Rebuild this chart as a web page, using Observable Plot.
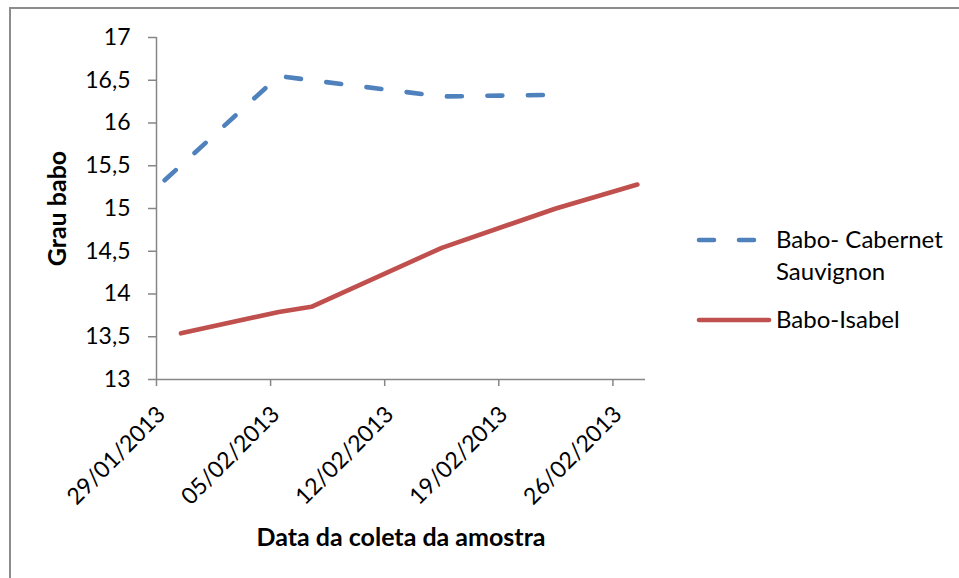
<!DOCTYPE html>
<html><head><meta charset="utf-8">
<script src="https://cdn.jsdelivr.net/npm/d3@7"></script>
<script src="https://cdn.jsdelivr.net/npm/@observablehq/plot@0.6"></script>
<style>
body{margin:0;background:#fff;font-family:Lato,"Open Sans",sans-serif}
#wrap{position:relative;width:959px;height:578px;overflow:hidden;background:#fff}
#frame{position:absolute;left:9px;top:7px;width:1000px;height:1000px;border-top:2px solid #8c8c8c;border-left:2px solid #8c8c8c;box-sizing:border-box}
#chart{position:absolute;left:0;top:0}
.leg{position:absolute;font-size:24px;color:#000;line-height:32px;white-space:nowrap}
</style></head>
<body>
<div id="wrap">
  <div id="frame"></div>
  <div id="chart"></div>
  <div id="legend"></div>
</div>
<script>
// ---- data ----
const seriesNames = ["Babo- Cabernet Sauvignon", "Babo-Isabel"];
const cabDates = ["2013-01-29", "2013-02-05", "2013-02-07", "2013-02-15", "2013-02-22"];
const cabValues = [15.33, 16.55, 16.50, 16.31, 16.33];
const isaDates = ["2013-01-30", "2013-02-05", "2013-02-07", "2013-02-15", "2013-02-22", "2013-02-27"];
const isaValues = [13.54, 13.79, 13.85, 14.54, 15.00, 15.28];
const xTickDates = ["2013-01-29", "2013-02-05", "2013-02-12", "2013-02-19", "2013-02-26"];
const xDomainDates = ["2013-01-29", "2013-02-28"];
const yTicks = [13, 13.5, 14, 14.5, 15, 15.5, 16, 16.5, 17];
const colors = ["#4F81BD", "#C0504D"];

const day = s => new Date(s + "T00:00:00Z");
const mid = s => new Date(s + "T12:00:00Z");
const cab = cabDates.map((d, i) => ({x: mid(d), y: cabValues[i]}));
const isa = isaDates.map((d, i) => ({x: mid(d), y: isaValues[i]}));
const fmtDate = d3.utcFormat("%d/%m/%Y");
const fmtNum = d => String(d).replace(".", ",");
const axisGray = "#868686";
const xt = xTickDates.map(day);

const plot = Plot.plot({
  width: 959, height: 578,
  marginLeft: 156, marginRight: 314, marginTop: 37, marginBottom: 199,
  style: {fontFamily: "Lato, 'Open Sans', sans-serif", color: "#000", background: "transparent", overflow: "visible"},
  x: {type: "utc", domain: xDomainDates.map(day)},
  y: {domain: [13, 17]},
  marks: [
    Plot.axisY({ticks: yTicks, tickFormat: fmtNum, tickSize: 8, tickPadding: 18, fontSize: 23, stroke: axisGray, strokeWidth: 1.5, label: null}),
    Plot.axisX({ticks: xt, tickFormat: () => "", tickSize: 7, stroke: axisGray, strokeWidth: 1.5, label: null}),
    Plot.axisX({ticks: xt, tickFormat: fmtDate, tickSize: 0, tickPadding: 31, tickRotate: -45, fontSize: 23, dx: 5, label: null}),
    Plot.ruleY([13], {stroke: axisGray, strokeWidth: 1.5}),
    Plot.ruleX([day(xDomainDates[0])], {stroke: axisGray, strokeWidth: 1.5}),
    Plot.line(isa, {x: "x", y: "y", stroke: colors[1], strokeWidth: 4.6, strokeLinecap: "round", strokeLinejoin: "round"}),
    Plot.line(cab, {x: "x", y: "y", stroke: colors[0], strokeWidth: 4.6, strokeLinecap: "round", strokeLinejoin: "round", strokeDasharray: "15,25.5"}),
    Plot.text(["Grau babo"], {frameAnchor: "left", dx: -99, rotate: -90, textAnchor: "middle", lineAnchor: "middle", fontWeight: "bold", fontSize: 25}),
    Plot.text(["Data da coleta da amostra"], {frameAnchor: "bottom", dy: 158, textAnchor: "middle", lineAnchor: "middle", fontWeight: "bold", fontSize: 25})
  ]
});
document.getElementById("chart").appendChild(plot);

// ---- legend ----
const leg = document.getElementById("legend");
leg.innerHTML = `
  <svg style="position:absolute;left:690px;top:230px" width="90" height="20">
    <line x1="9" y1="10" x2="71" y2="10" stroke="${colors[0]}" stroke-width="4.6" stroke-linecap="round" stroke-dasharray="15,25"/>
  </svg>
  <div class="leg" style="left:776px;top:223px">Babo- Cabernet<br>Sauvignon</div>
  <svg style="position:absolute;left:690px;top:310px" width="90" height="20">
    <line x1="9" y1="10" x2="79" y2="10" stroke="${colors[1]}" stroke-width="4.6" stroke-linecap="round"/>
  </svg>
  <div class="leg" style="left:776px;top:303px">${seriesNames[1]}</div>`;
</script>
</body></html>
